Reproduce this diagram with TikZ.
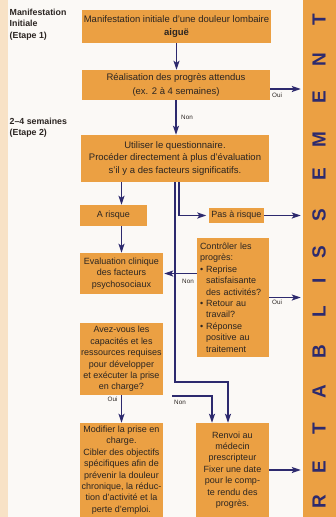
\documentclass[tikz,border=0pt]{standalone}
\usepackage{fontspec}
\setmainfont{Liberation Sans}
\usetikzlibrary{arrows.meta}
\definecolor{boxor}{HTML}{EBA043}
\definecolor{navy}{HTML}{2D2A6E}
\definecolor{txt}{HTML}{2B2522}
\definecolor{paper}{HTML}{FBF9F6}
\definecolor{strip}{HTML}{F8E2C6}
\begin{document}
\begin{tikzpicture}[x=1pt,y=-1pt,
  box/.style={fill=boxor, text=txt, inner sep=0pt, align=center, font=\fontsize{9}{11.4}\selectfont},
  bigbox/.style={box, font=\fontsize{9.5}{12.2}\selectfont},
  arr/.style={draw=navy, line width=1.7pt, -{Stealth[length=9pt,width=6pt,inset=2pt]}},
  lbl/.style={font=\fontsize{6.3}{7}\selectfont, text=txt, inner sep=0pt},
  side/.style={font=\bfseries\fontsize{8.8}{11.5}\selectfont, text=txt, align=left, anchor=north west, inner sep=0pt},
  barletter/.style={font=\bfseries\fontsize{19}{19}\selectfont, text=navy, rotate=90, inner sep=0pt}
]
\useasboundingbox (0,0) rectangle (336,517);
\fill[paper] (0,0) rectangle (336,517);
\fill[strip] (0,0) rectangle (8,517);
\node[fill=boxor, minimum width=33pt, minimum height=517pt, inner sep=0pt] (bar) at (319.5,258.5) {};
\foreach \l/\y in {T/20,N/60,E/97,M/140,E/174,S/215,S/252,I/281,L/312,B/352,A/392,T/429,E/467,R/502}
  \node[barletter] (let\y) at (319,\y) {\l};

\node[side] (lab1) at (9.5,8.5) {Manifestation\\Initiale\\(Etape 1)};
\node[side] (lab2) at (9.5,117.5) {2–4 semaines\\(Etape 2)};

\node[bigbox, minimum width=189pt, minimum height=33pt] (b1) at (176.5,26.5)
  {Manifestation initiale d’une douleur lombaire\\\textbf{aiguë}};
\node[bigbox, minimum width=188pt, minimum height=30pt] (b2) at (176,85)
  {Réalisation des progrès attendus\\[1.8pt](ex. 2 à 4 semaines)};
\node[bigbox, minimum width=188pt, minimum height=47pt] (b3) at (175,158.5)
  {Utiliser le questionnaire.\\Procéder directement à plus d’évaluation\\s’il y a des facteurs significatifs.};
\node[box, minimum width=67pt, minimum height=21pt] (risk) at (113.5,215.5) {A risque};
\node[box, minimum width=55pt, minimum height=15pt] (nrisk) at (236.5,215.5) {Pas à risque};
\node[box, align=left, text width=66pt, inner xsep=3pt, minimum height=119pt] (ctrl) at (233,297.5)
  {Contrôler les\\progrès:\\• Reprise\\\phantom{• }satisfaisante\\\phantom{• }des activités?\\• Retour au\\\phantom{• }travail?\\• Réponse\\\phantom{• }positive au\\\phantom{• }traitement};
\node[box, minimum width=83pt, minimum height=41pt] (eval) at (121.5,273.5)
  {Evaluation clinique\\des facteurs\\psychosociaux};
\node[box, minimum width=83pt, minimum height=72pt] (avez) at (121.5,359)
  {Avez-vous les\\capacités et les\\ressources requises\\pour développer\\et exécuter la prise\\en charge?};
\node[box, minimum width=83pt, minimum height=94pt] (modif) at (121.5,470)
  {Modifier la prise en\\charge.\\Cibler des objectifs\\spécifiques afin de\\prévenir la douleur\\chronique, la réduc-\\tion d’activité et la\\perte d’emploi.};
\node[box, minimum width=73pt, minimum height=94pt] (renv) at (232.5,470)
  {Renvoi au\\médecin\\prescripteur\\Fixer une date\\pour le comp-\\te rendu des\\progrès.};

% connectors
\draw[arr] (b1.south) -- (b1.south |- b2.north);
\coordinate (o1) at ([yshift=-4pt]b2.east);
\draw[arr, shorten >=2pt] (o1) -- (o1 -| bar.west);
\draw[arr] (b2.south) -- (b2.south |- b3.north);
\draw[arr] (eval.north |- b3.south) -- (eval.north |- risk.north);
\draw[arr, shorten >=2.5pt] ([xshift=4pt]b3.south) |- (nrisk.west);
\draw[arr, shorten >=2pt] (nrisk.east) -- (nrisk.east -| bar.west);
\coordinate (k) at ([xshift=-4.5pt,yshift=41pt]renv.north);
\draw[arr] (b3.south) |- (k) -- (k |- renv.north);
\draw[arr] (eval.north |- risk.south) -- (eval.north);
\draw[arr, shorten >=1pt] (ctrl.west |- eval.east) -- (eval.east);
\draw[arr, shorten >=2pt] (ctrl.east) -- (ctrl.east -| bar.west);
\draw[arr] (avez.south) -- (modif.north);
\coordinate (n2) at (172,396);
\draw[arr] (n2) -| ([xshift=-20.5pt]renv.north);
\draw[arr, shorten >=2pt] (renv.east) -- (renv.east -| bar.west);

% labels
\node[lbl] (l1) at (277,95) {Oui};
\node[lbl] (l2) at (187,117) {Non};
\node[lbl] (l3) at (188,281.5) {Non};
\node[lbl] (l4) at (277,302.5) {Oui};
\node[lbl] (l5) at (112.5,399.5) {Oui};
\node[lbl] (l6) at (180,402) {Non};
\end{tikzpicture}
\end{document}
